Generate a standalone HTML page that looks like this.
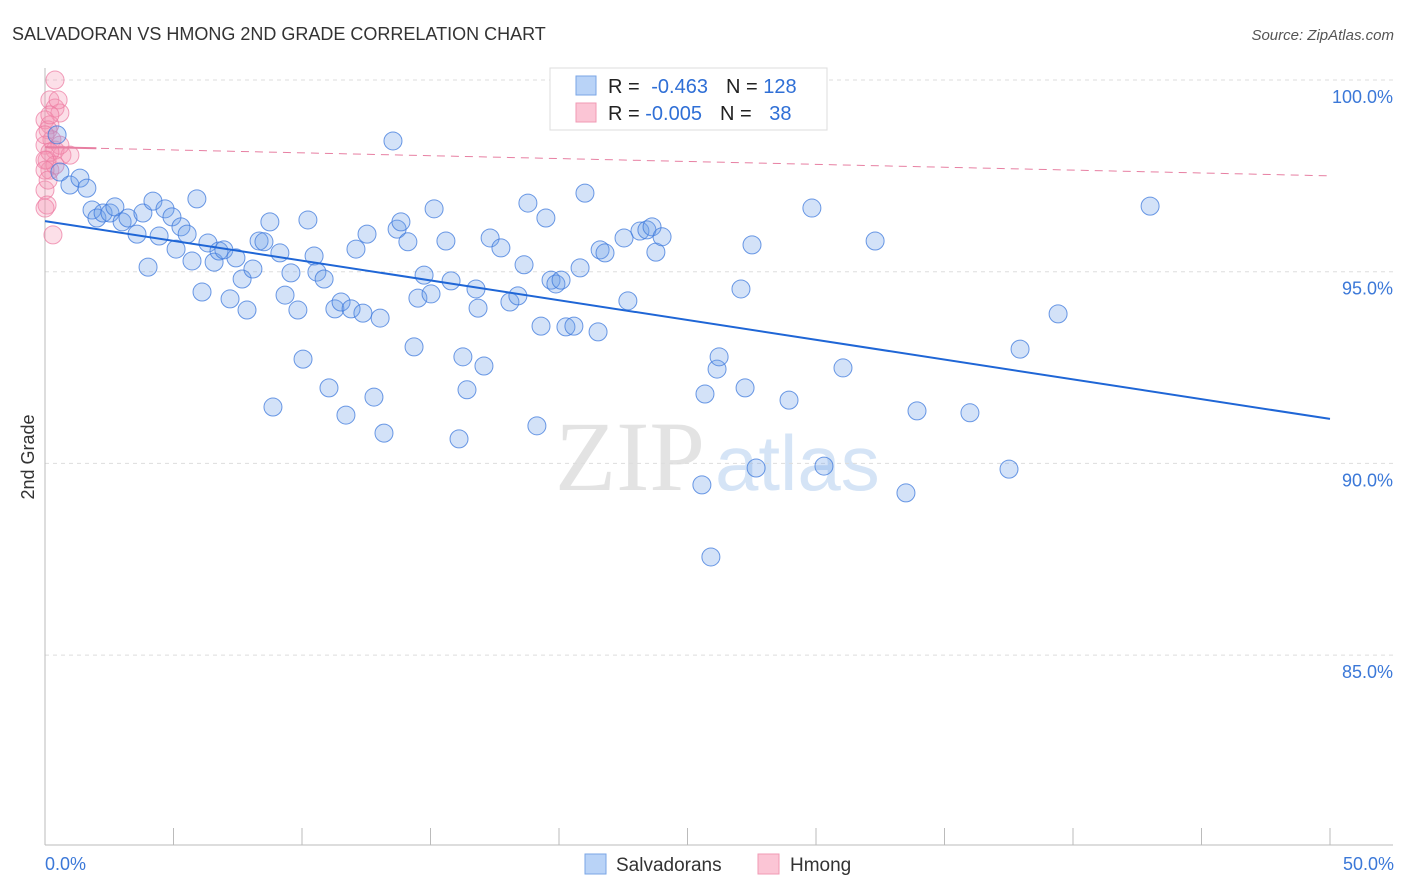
<!DOCTYPE html>
<html><head><meta charset="utf-8"><style>
body{margin:0;background:#fff;font-family:"Liberation Sans",sans-serif;}
</style></head><body>
<svg id="chart" width="1406" height="892" style="display:block">
<text x="12" y="40" font-size="18" fill="#333">SALVADORAN VS HMONG 2ND GRADE CORRELATION CHART</text>
<text x="1394" y="40" font-size="15" fill="#555" font-style="italic" text-anchor="end">Source: ZipAtlas.com</text>
<g>
<text x="555" y="490" font-family="Liberation Serif,serif" font-size="100" fill="#e3e3e3">ZIP</text>
<text x="715" y="490" font-size="78" fill="#d5e4f6">atlas</text>
</g>
<g id="grid"></g><g id="axes"></g><g id="marks"></g>
<text transform="translate(34,457) rotate(-90)" font-size="18" fill="#333" text-anchor="middle">2nd Grade</text>
<g>
<rect x="550" y="68" width="277" height="62" fill="#fff" stroke="#ddd"/>
<rect x="576" y="76" width="20" height="19" fill="#b9d3f7" stroke="#7aa6e6"/>
<rect x="576" y="103" width="20" height="19" fill="#fbc5d5" stroke="#f09ab4"/>
<text x="608" y="93" font-size="20" fill="#222">R = <tspan fill="#2f6fd6" dx="6">-0.463</tspan><tspan dx="18" fill="#222">N = </tspan><tspan fill="#2f6fd6">128</tspan></text>
<text x="608" y="120" font-size="20" fill="#222">R = <tspan fill="#2f6fd6">-0.005</tspan><tspan dx="18" fill="#222">N = </tspan><tspan fill="#2f6fd6" dx="12">38</tspan></text>
</g>
<g>
<rect x="585" y="854" width="21" height="20" fill="#b9d3f7" stroke="#7aa6e6"/>
<text x="616" y="871" font-size="19" fill="#333">Salvadorans</text>
<rect x="758" y="854" width="21" height="20" fill="#fbc5d5" stroke="#f09ab4"/>
<text x="790" y="871" font-size="19" fill="#333">Hmong</text>
</g>
</svg>
<script>
const yTicks=[100,95,90,85];
const yTickLabels=["100.0%","95.0%","90.0%","85.0%"];
const xTickLabels=["0.0%","50.0%"];
const blueX=[0.47,0.58,0.97,1.36,1.63,1.83,2.02,2.26,2.53,2.72,3.00,3.23,3.58,3.81,4.01,4.20,4.44,4.67,4.94,5.10,5.29,5.53,5.72,5.91,6.11,6.34,6.58,6.77,6.96,7.20,7.43,7.67,7.86,8.09,8.33,8.52,8.75,8.87,9.14,9.34,9.57,9.84,10.04,10.23,10.47,10.58,10.86,11.05,11.28,11.52,11.71,11.91,12.10,12.37,12.53,12.80,13.04,13.19,13.54,13.70,13.85,14.12,14.36,14.51,14.75,15.02,15.14,15.60,15.80,16.11,16.26,16.42,16.77,16.85,17.08,17.32,17.74,18.09,18.40,18.64,18.79,19.14,19.30,19.49,19.69,19.88,20.08,20.27,20.58,20.82,21.01,21.52,21.60,21.79,22.53,22.68,23.15,23.42,23.62,23.77,24.01,24.94,25.56,25.68,25.91,26.15,26.23,27.08,27.24,27.51,27.67,28.95,29.84,30.31,31.05,32.30,33.50,33.93,35.99,37.51,37.94,39.42,43.00];
const blueY=[98.57,97.60,97.26,97.44,97.18,96.61,96.40,96.53,96.53,96.69,96.30,96.40,95.98,96.53,95.12,96.84,95.93,96.64,96.43,95.59,96.17,95.98,95.28,96.90,94.47,95.75,95.25,95.54,95.57,94.29,95.36,94.81,94.00,95.07,95.80,95.78,96.30,91.47,95.49,94.39,94.97,94.00,92.72,96.35,95.41,94.99,94.81,91.97,94.03,94.21,91.26,94.03,95.59,93.92,95.98,91.73,93.79,90.79,98.41,96.11,96.30,95.78,93.04,94.31,94.91,94.42,96.64,95.80,94.76,90.64,92.78,91.92,94.55,94.05,92.54,95.88,95.62,94.21,94.37,95.18,96.79,90.98,93.58,96.40,94.78,94.68,94.78,93.56,93.58,95.10,97.05,93.43,95.57,95.49,95.88,94.24,96.06,96.09,96.17,95.51,95.91,100.0,89.44,91.81,87.56,92.46,92.78,94.55,91.97,95.70,89.88,91.65,96.66,89.93,92.49,95.80,89.23,91.37,91.32,89.85,92.98,93.90,96.71];
const pinkX=[0.39,0.19,0.39,0.58,0,0.19,0.12,0.27,0,0.39,0.66,0.97,0.08,0.19,0,0.08,0,0.31,0.51,0.19,0.58,0,0.19,0.39,0,0,0.12];
const pinkY=[100.0,99.48,99.27,99.14,98.96,98.83,98.70,98.44,98.30,98.17,98.04,98.04,97.91,97.65,97.13,96.74,96.66,95.96,99.48,99.09,98.30,98.57,98.12,97.78,97.91,97.65,97.39];
const blueTrend=[96.32,91.16];
const pinkTrend=[98.25,97.50];
const NS="http://www.w3.org/2000/svg";
const X0=45,X1=1330,Y100=80,PXPER=38.34;
function sx(v){return X0+(X1-X0)*v/50;}
function sy(v){return Y100+(100-v)*PXPER;}
function mk(tag,attrs,parent){const e=document.createElementNS(NS,tag);for(const k in attrs)e.setAttribute(k,attrs[k]);parent.appendChild(e);return e;}
const grid=document.getElementById('grid'),axes=document.getElementById('axes'),marks=document.getElementById('marks');
yTicks.forEach((t,i)=>{
 const l=mk('line',{x1:X0,x2:X1+63,y1:sy(t),y2:sy(t),stroke:'#ddd','stroke-dasharray':'4,4'},grid);
 
 
 const tx=mk('text',{x:1393,y:sy(t)+23,'font-size':18,fill:'#3b78d8','text-anchor':'end'},axes);
 tx.textContent=yTickLabels[i];
 
 
});
const ax=mk('line',{x1:X0,x2:X0,y1:68,y2:845,stroke:'#bbb'},axes);


const bx=mk('line',{x1:X0,x2:1393,y1:845,y2:845,stroke:'#bbb'},axes);


for(let i=0;i<=10;i++){const t=mk('line',{x1:sx(i*5),x2:sx(i*5),y1:828,y2:845,stroke:'#bbb'},axes);
 
 }
[[0,'start',45],[50,'end',1394]].forEach((d,i)=>{const t=mk('text',{x:d[2],y:870,'font-size':18,fill:'#3b78d8','text-anchor':d[1]},axes);t.textContent=xTickLabels[i];
 
 });
pinkX.forEach((x,i)=>{const c=mk('circle',{cx:sx(x),cy:sy(pinkY[i]),r:9,fill:'rgba(244,150,180,0.3)',stroke:'rgba(236,120,160,0.7)'},marks);
 
 });
blueX.forEach((x,i)=>{const c=mk('circle',{cx:sx(x),cy:sy(blueY[i]),r:9,fill:'rgba(110,160,232,0.3)',stroke:'rgba(60,120,220,0.75)'},marks);
 
 });
const bl=mk('line',{x1:sx(0),y1:sy(blueTrend[0]),x2:sx(50),y2:sy(blueTrend[1]),stroke:'#1f66d6','stroke-width':2},marks);


const pl=mk('line',{x1:sx(0),y1:sy(pinkTrend[0]),x2:sx(50),y2:sy(pinkTrend[1]),stroke:'#e77fa2','stroke-width':1,'stroke-dasharray':'8,6'},marks);


const ps=mk('line',{x1:sx(0),y1:sy(pinkTrend[0]),x2:sx(2),y2:sy(pinkTrend[0]+(pinkTrend[1]-pinkTrend[0])*0.04),stroke:'#e77fa2','stroke-width':2},marks);


</script>
</body></html>
